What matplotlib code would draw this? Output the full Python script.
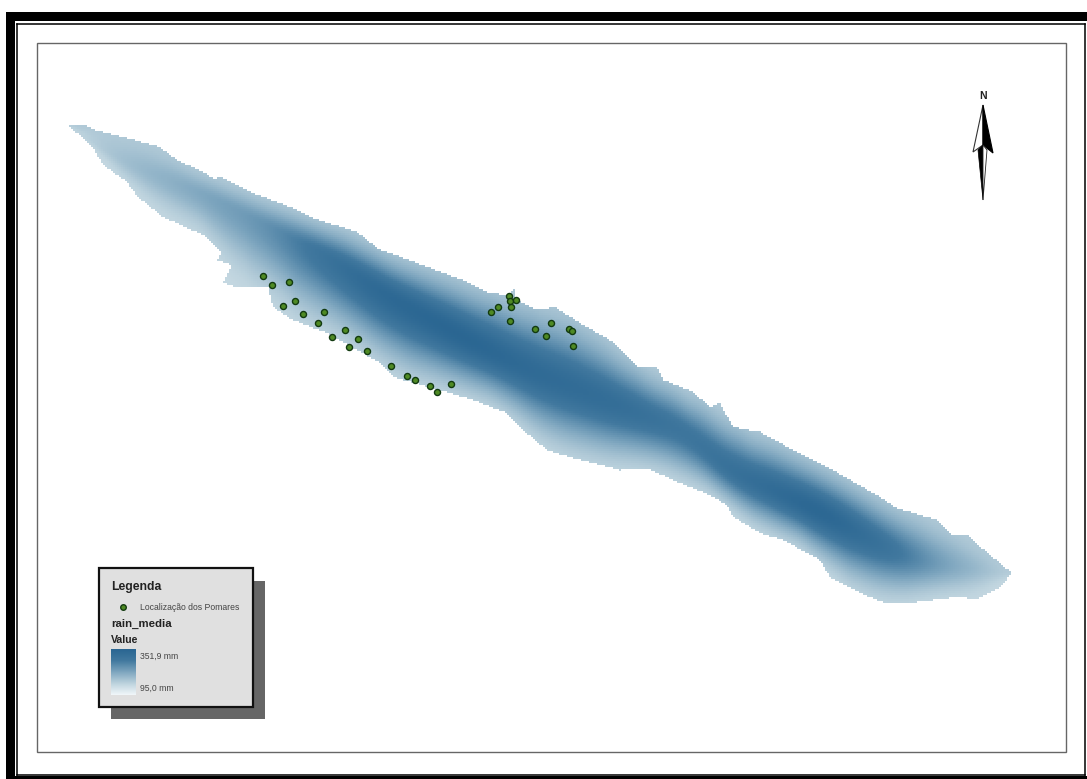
import numpy as np
import matplotlib.pyplot as plt
from matplotlib.colors import LinearSegmentedColormap
from matplotlib.patches import Rectangle, Polygon
from matplotlib.path import Path

W, H = 1087, 779

# outline of the rainfall raster, in image pixels
top_x = [70, 85, 98, 127, 160, 177, 203, 215, 218, 250, 290, 313, 357, 380, 390, 462, 490, 508, 514, 516, 537, 555, 580, 613, 637, 657, 663, 693, 710, 720, 733, 760, 797, 833, 880, 897, 937, 950, 967, 990, 1012]
top_y = [125, 125, 131, 138, 147, 160, 172, 180, 176, 192, 207, 218, 232, 250, 253, 280, 293, 295, 288, 300, 310, 307, 323, 342, 367, 368, 380, 392, 407, 403, 427, 432, 452, 470, 497, 508, 520, 534, 535, 555, 573]
bot_x = [70, 93, 103, 127, 137, 163, 203, 222, 233, 257, 268, 273, 293, 327, 380, 393, 447, 473, 507, 523, 547, 573, 620, 647, 673, 710, 727, 733, 760, 783, 820, 830, 870, 887, 917, 957, 977, 1000, 1012]
bot_y = [127, 147, 165, 182, 196, 217, 235, 253, 286, 288, 287, 307, 320, 333, 363, 377, 392, 400, 413, 430, 450, 458, 470, 468, 480, 495, 505, 517, 533, 540, 560, 577, 597, 604, 602, 597, 599, 587, 573]
# small western lobe on the south edge, between x=222 and x=233
lobe_x = [217, 232, 223]
lobe_y = [260, 265, 282]

# ridge of the wettest band and the value along it (mm)
ridge_x = [70, 127, 210, 260, 327, 377, 463, 530, 613, 690, 723, 823, 897, 933, 1012]
ridge_y = [125, 163, 197, 223, 257, 290, 337, 370, 403, 433, 467, 513, 553, 563, 573]
ridge_v = [150, 190, 225, 245, 310, 340, 351, 335, 325, 295, 310, 351, 300, 240, 160]

# orchard points
pts_x = [263.3, 272.3, 289.3, 282.7, 295, 303.3, 323.7, 318.3, 345.3, 332, 358.3, 349, 366.7, 391, 406.7, 415.3, 430.3, 437.3, 451.3, 491, 497.7, 509.3, 509.7, 515.7, 511.3, 509.7, 535, 551, 545.7, 569.3, 571.7, 572.7]
pts_y = [276.3, 284.7, 282.3, 306.3, 301.3, 313.7, 312.3, 323.3, 329.7, 337.3, 338.7, 347, 351.3, 365.7, 376, 379.7, 386, 391.7, 384, 311.7, 307, 295.7, 300.7, 300.3, 306.7, 321, 329.3, 322.7, 336, 329, 330.7, 345.7]

legend_labels = ["Legenda", "Localização dos Pomares", "rain_media", "Value", "351,9 mm", "95,0 mm"]

plt.rcParams["font.family"] = ["Liberation Sans", "DejaVu Sans"]

fig = plt.figure(figsize=(W / 100, H / 100), dpi=100)
ax = fig.add_axes([0, 0, 1, 1])
ax.axis("off")

cmap = LinearSegmentedColormap.from_list("rain", ["#f0f6f9", "#bcd2dd", "#7ea6bf", "#42799f", "#2a6692"])
cmap.set_bad((1, 1, 1, 0))

# outer frames
ax.add_patch(Rectangle((6, 12), W - 6, H - 12, fc="black", ec="none", zorder=0))
ax.add_patch(Rectangle((15, 21), W - 15, 755, fc="white", ec="none", zorder=0.1))
ax.plot([17.3, 17.3], [23.5, 774.5], color="black", lw=1.1, zorder=0.2)
ax.plot([17.3, 1085.3], [23.5, 23.5], color="black", lw=1.1, zorder=0.2)
ax.plot([17.3, 1085.3], [774.5, 774.5], color="black", lw=1.1, zorder=0.2)
ax.plot([1085.3, 1085.3], [23.5, 774.5], color="black", lw=1.1, zorder=0.2)
ax.add_patch(Rectangle((36.5, 42.5), 1029, 709, fc="none", ec="#666666", lw=1.0, zorder=0.3))

# raster: value falls away from the ridge towards both edges
xs = np.arange(60, 1020, 2.0)
ys = np.arange(110, 615, 2.0)
kernel = np.ones(25) / 25
def smooth(vx, vy):
    line = np.interp(xs, vx, vy)
    pad = np.pad(line, 12, mode="edge")
    return np.convolve(pad, kernel, mode="valid")
ty = smooth(top_x, top_y)[None, :]
by = smooth(bot_x, bot_y)[None, :]
ry = smooth(ridge_x, ridge_y)[None, :]
rv = smooth(ridge_x, ridge_v)[None, :]
xx, yy = np.meshgrid(xs, ys)
d = np.where(yy < ry, (ry - yy) / np.maximum(ry - ty, 6), (yy - ry) / np.maximum(by - ry, 6))
edge = np.where(yy < ry, 172, 150)
grid = edge + (rv - edge) * (np.exp(-(d / 0.68) ** 2) - 0.05) / 0.95

outline = list(zip(top_x, top_y))
south = list(zip(bot_x, bot_y))
south[8:8] = list(zip(lobe_x, lobe_y))
outline += south[::-1]
inside = Path(outline).contains_points(np.column_stack([xx.ravel(), yy.ravel()])).reshape(xx.shape)
grid = np.ma.masked_where(~inside, grid)
ax.imshow(grid, extent=(59, 1019, 615, 109), cmap=cmap, vmin=95, vmax=351.9, interpolation="nearest", zorder=1, aspect="auto")

ax.scatter(pts_x, pts_y, s=19, c="#4f8a24", edgecolors="#123a10", linewidths=1.0, zorder=3)

# legend box
ax.add_patch(Rectangle((111, 580.5), 154, 138.5, fc="#666666", ec="none", zorder=4))
ax.add_patch(Rectangle((98.5, 567.5), 154, 139.5, fc="#e0e0e0", ec="#111111", lw=1.6, zorder=5))
ax.text(111, 587, legend_labels[0], fontsize=8.8, fontweight="bold", va="center", color="#222222", zorder=6)
ax.scatter([123], [607], s=16, c="#4f8a24", edgecolors="#123a10", linewidths=1, zorder=6)
ax.text(140, 607, legend_labels[1], fontsize=6.2, va="center", color="#444444", zorder=6)
ax.text(111, 624, legend_labels[2], fontsize=8.2, fontweight="bold", va="center", color="#222222", zorder=6)
ax.text(111, 640, legend_labels[3], fontsize=7.6, fontweight="bold", va="center", color="#222222", zorder=6)
ax.imshow(np.linspace(1, 0, 64).reshape(-1, 1), extent=(111, 136, 695, 649), cmap=cmap, interpolation="bilinear", zorder=6, aspect="auto")
ax.text(140, 656, legend_labels[4], fontsize=6.2, va="center", color="#444444", zorder=6)
ax.text(140, 688, legend_labels[5], fontsize=6.2, va="center", color="#444444", zorder=6)

# north arrow
ax.text(983, 96, "N", fontsize=7.5, fontweight="bold", ha="center", va="center", color="#222222")
ax.add_patch(Polygon([(983, 105), (973, 152), (983, 145)], closed=True, fc="white", ec="#333333", lw=0.8, zorder=6))
ax.add_patch(Polygon([(983, 105), (993, 153), (983, 145)], closed=True, fc="black", ec="black", lw=0.8, zorder=6))
ax.add_patch(Polygon([(983, 145), (978, 150), (983, 200)], closed=True, fc="black", ec="black", lw=0.5, zorder=6))
ax.add_patch(Polygon([(983, 145), (987, 150), (983, 200)], closed=True, fc="white", ec="#222222", lw=0.6, zorder=6))

ax.set_xlim(0, W)
ax.set_ylim(H, 0)
fig.savefig("out.png", dpi=100)
